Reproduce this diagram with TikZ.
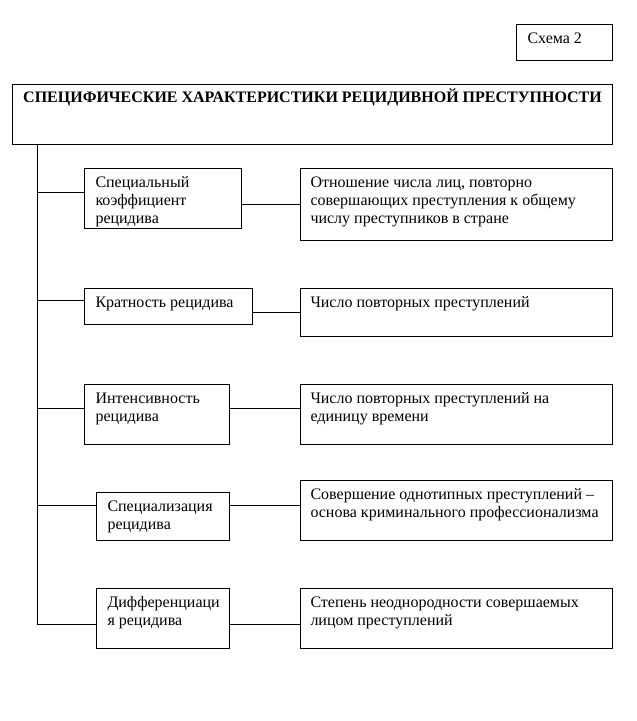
\documentclass[tikz,border=0pt]{standalone}
\usepackage{fontspec}
\setmainfont{Liberation Serif}
\tikzset{
  box/.style={draw, line width=1pt, inner sep=0pt, anchor=north west, font=\fontsize{16}{18}\selectfont},
  wire/.style={line width=1pt}
}
\newcommand\bx[7]{%
  \node[box, minimum width=#4pt, minimum height=#5pt, inner xsep=#6pt] (#1) at (#2,#3)
    {\parbox[t][#5pt][t]{\dimexpr#4pt-#6pt*2\relax}{\raggedright\rule{0pt}{19pt}#7}};}
\begin{document}
\begin{tikzpicture}[x=1pt,y=-1pt]
\useasboundingbox (0,0) rectangle (637,721);
\bx{schema}{516}{24}{96}{36}{11}{Схема 2}
\node[box, minimum width=600pt, minimum height=60pt] (title) at (12,84)
  {\parbox[t][60pt][t]{600pt}{\centering\bfseries\rule{0pt}{18pt}СПЕЦИФИЧЕСКИЕ ХАРАКТЕРИСТИКИ РЕЦИДИВНОЙ ПРЕСТУПНОСТИ}};
\bx{L1}{84}{168}{157}{60}{11}{Специальный\\коэффициент\\рецидива}
\bx{R1}{300}{168}{312}{72}{10}{Отношение числа лиц, повторно\\совершающих преступления к общему\\числу преступников в стране}
\bx{L2}{84}{288}{168}{36}{11}{Кратность рецидива}
\bx{R2}{300}{288}{312}{48}{10}{Число повторных преступлений}
\bx{L3}{84}{384}{145}{60}{11}{Интенсивность\\рецидива}
\bx{R3}{300}{384}{312}{60}{10}{Число повторных преступлений на\\единицу времени}
\bx{L4}{96}{492}{133}{48}{11}{Специализация\\рецидива}
\bx{R4}{300}{480}{312}{60}{10}{Совершение однотипных преступлений –\\основа криминального профессионализма}
\bx{L5}{96}{588}{133}{60}{11}{Дифференциаци\\я рецидива}
\bx{R5}{300}{588}{312}{60}{10}{Степень неоднородности совершаемых\\лицом преступлений}
\coordinate (tk) at (37,0);
\coordinate (b1) at (0,192);
\coordinate (b2) at (0,300);
\coordinate (b3) at (0,408);
\coordinate (b4) at (0,505);
\coordinate (b5) at (0,624);
\coordinate (h1) at (0,204);
\coordinate (h2) at (0,312);
\draw[wire] (tk |- title.south) -- (tk |- b5) -- (b5 -| L5.west);
\draw[wire] (tk |- b1) -- (b1 -| L1.west);
\draw[wire] (tk |- b2) -- (b2 -| L2.west);
\draw[wire] (tk |- b3) -- (b3 -| L3.west);
\draw[wire] (tk |- b4) -- (b4 -| L4.west);
\draw[wire] (h1 -| L1.east) -- (h1 -| R1.west);
\draw[wire] (h2 -| L2.east) -- (h2 -| R2.west);
\draw[wire] (b3 -| L3.east) -- (b3 -| R3.west);
\draw[wire] (b4 -| L4.east) -- (b4 -| R4.west);
\draw[wire] (b5 -| L5.east) -- (b5 -| R5.west);
\end{tikzpicture}
\end{document}
